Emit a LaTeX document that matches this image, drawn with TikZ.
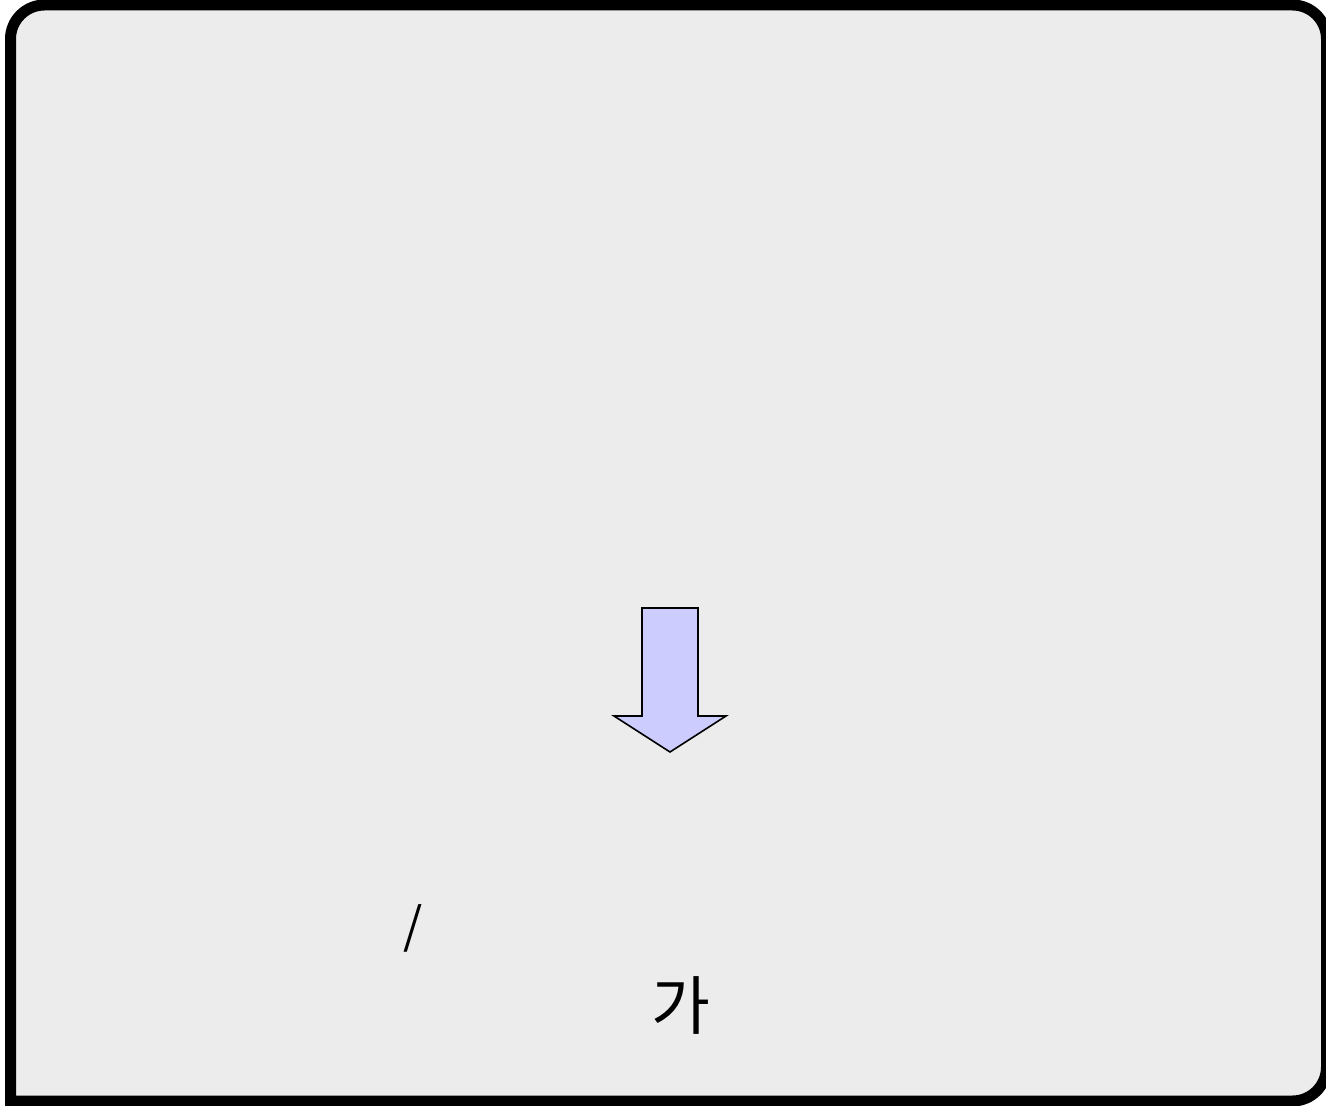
\documentclass[tikz,border=0pt]{standalone}
\usepackage{fontspec}
\newfontfamily\krfont{Noto Sans CJK KR}
\definecolor{panelbg}{HTML}{ECECEC}
\definecolor{arrowfill}{HTML}{CCCCFF}
\tikzset{
  panel/.style={draw=black, line width=5.5pt, fill=panelbg},
  bigarrow/.style={draw=black, line width=0.8pt, fill=arrowfill, line join=miter},
  lbl/.style={font=\krfont\fontsize{32pt}{38pt}\selectfont, inner sep=0pt, text=black},
  slbl/.style={font=\krfont\fontsize{24.5pt}{30pt}\selectfont, inner sep=0pt, text=black}
}
\begin{document}
\begin{tikzpicture}[x=0.5pt,y=-0.5pt]
\useasboundingbox (0,0) rectangle (1326,1106);
\fill[white] (0,0) rectangle (1326,1106);
\begin{scope}
\clip (0,0) rectangle (1326,1106);
\draw[panel] (10.5,1101) [rounded corners=17pt] -- (10.5,5) -- (1326.5,5) -- (1326.5,1101) [sharp corners] -- cycle;
\end{scope}
\draw[bigarrow] (642,608) -- (698,608) -- (698,716) -- (726,716) -- (670,752) -- (614,716) -- (642,716) -- cycle;
\node[slbl] (slash) at (413,928) {/};
\node[lbl] (ga) at (681,1005) {가};
\end{tikzpicture}
\end{document}
